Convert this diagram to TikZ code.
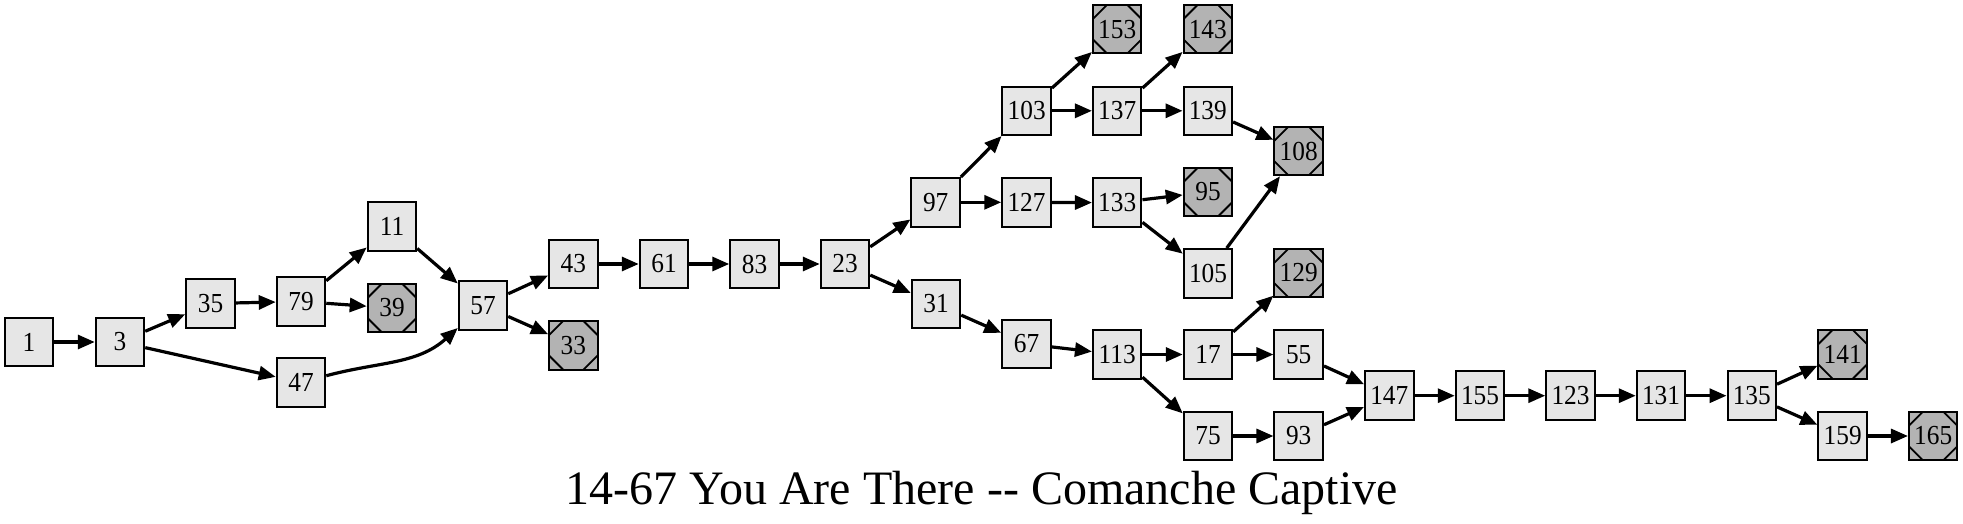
\documentclass[tikz,border=0pt]{standalone}
\usepackage{fontspec}
\setmainfont{Liberation Serif}
\usetikzlibrary{arrows.meta,calc}
\definecolor{nodefill}{HTML}{E6E6E6}
\definecolor{termfill}{HTML}{B3B3B3}
\newcommand\hsq[1]{\scalebox{0.92}[1]{#1}}
\tikzset{
  pg/.style={draw=black, line width=2pt, fill=nodefill, minimum width=48.5pt,
    minimum height=48.5pt, inner sep=0pt, font=\fontsize{27.5}{27.5}\selectfont},
  term/.style={pg, fill=termfill, path picture={
    \draw[line width=1.8pt] ([xshift=14pt]path picture bounding box.north west) -- ([yshift=-14pt]path picture bounding box.north west);
    \draw[line width=1.8pt] ([xshift=-14pt]path picture bounding box.north east) -- ([yshift=-14pt]path picture bounding box.north east);
    \draw[line width=1.8pt] ([xshift=14pt]path picture bounding box.south west) -- ([yshift=14pt]path picture bounding box.south west);
    \draw[line width=1.8pt] ([xshift=-14pt]path picture bounding box.south east) -- ([yshift=14pt]path picture bounding box.south east);
  }},
  edge/.style={line width=3.2pt, -{Triangle[length=17pt,width=14pt]}}
}
\begin{document}
\begin{tikzpicture}[x=1pt,y=1pt]
\fill[white] (0,0) rectangle (1963,-524);
\useasboundingbox (0,0) rectangle (1963,-524);
% nodes
\node[pg] (n1) at (29,-342) {\hsq{1}};
\node[pg] (n3) at (120,-342) {\hsq{3}};
\node[pg] (n35) at (210.5,-303.5) {\hsq{35}};
\node[pg] (n79) at (301,-301.5) {\hsq{79}};
\node[pg] (n47) at (301,-382.5) {\hsq{47}};
\node[pg] (n11) at (392,-226.7) {\hsq{11}};
\node[term] (n39) at (392,-308) {\hsq{39}};
\node[pg] (n57) at (483,-305.3) {\hsq{57}};
\node[pg] (n43) at (573.3,-264) {\hsq{43}};
\node[term] (n33) at (573.3,-345.3) {\hsq{33}};
\node[pg] (n61) at (664,-264) {\hsq{61}};
\node[pg] (n83) at (754.5,-264) {\hsq{83}};
\node[pg] (n23) at (845,-264) {\hsq{23}};
\node[pg] (n97) at (935.7,-202.3) {\hsq{97}};
\node[pg] (n31) at (936,-304) {\hsq{31}};
\node[pg] (n103) at (1026.7,-110.8) {\hsq{103}};
\node[pg] (n127) at (1026.5,-202.3) {\hsq{127}};
\node[pg] (n67) at (1026.5,-344) {\hsq{67}};
\node[term] (n153) at (1117.2,-29.2) {\hsq{153}};
\node[pg] (n137) at (1117.2,-110.8) {\hsq{137}};
\node[pg] (n133) at (1117.2,-202.7) {\hsq{133}};
\node[pg] (n113) at (1117.2,-354.5) {\hsq{113}};
\node[term] (n143) at (1207.8,-29.2) {\hsq{143}};
\node[pg] (n139) at (1207.8,-110.8) {\hsq{139}};
\node[term] (n95) at (1208,-192) {\hsq{95}};
\node[pg] (n105) at (1208,-273.3) {\hsq{105}};
\node[pg] (n17) at (1208,-354.5) {\hsq{17}};
\node[pg] (n75) at (1208,-436) {\hsq{75}};
\node[term] (n108) at (1298.7,-151) {\hsq{108}};
\node[term] (n129) at (1298.7,-273) {\hsq{129}};
\node[pg] (n55) at (1298.7,-354.5) {\hsq{55}};
\node[pg] (n93) at (1298.7,-436) {\hsq{93}};
\node[pg] (n147) at (1389.3,-395.7) {\hsq{147}};
\node[pg] (n155) at (1480,-395.7) {\hsq{155}};
\node[pg] (n123) at (1570.5,-395.7) {\hsq{123}};
\node[pg] (n131) at (1661,-395.7) {\hsq{131}};
\node[pg] (n135) at (1751.8,-395.7) {\hsq{135}};
\node[term] (n141) at (1842.7,-354.3) {\hsq{141}};
\node[pg] (n159) at (1842.7,-436) {\hsq{159}};
\node[term] (n165) at (1933.2,-436) {\hsq{165}};
% edges
\draw[edge] (n1) -- (n3);
\draw[edge] (n3) -- (n35);
\draw[edge] (n3) -- (n47);
\draw[edge] (n35) -- (n79);
\draw[edge] (n79) -- (n11);
\draw[edge] (n79) -- (n39);
\draw[edge] (n47) to[out=15,in=-138] (n57);
\draw[edge] (n11) -- (n57);
\draw[edge] (n57) -- (n43);
\draw[edge] (n57) -- (n33);
\draw[edge] (n43) -- (n61);
\draw[edge] (n61) -- (n83);
\draw[edge] (n83) -- (n23);
\draw[edge] (n23) -- (n97);
\draw[edge] (n23) -- (n31);
\draw[edge] (n97) -- (n103);
\draw[edge] (n97) -- (n127);
\draw[edge] (n31) -- (n67);
\draw[edge] (n103) -- (n153);
\draw[edge] (n103) -- (n137);
\draw[edge] (n127) -- (n133);
\draw[edge] (n67) -- (n113);
\draw[edge] (n137) -- (n143);
\draw[edge] (n137) -- (n139);
\draw[edge] (n133) -- (n95);
\draw[edge] (n133) -- (n105);
\draw[edge] (n113) -- (n17);
\draw[edge] (n113) -- (n75);
\draw[edge] (n139) -- (n108);
\draw[edge] (n105) -- (n108);
\draw[edge] (n17) -- (n129);
\draw[edge] (n17) -- (n55);
\draw[edge] (n75) -- (n93);
\draw[edge] (n55) -- (n147);
\draw[edge] (n93) -- (n147);
\draw[edge] (n147) -- (n155);
\draw[edge] (n155) -- (n123);
\draw[edge] (n123) -- (n131);
\draw[edge] (n131) -- (n135);
\draw[edge] (n135) -- (n141);
\draw[edge] (n135) -- (n159);
\draw[edge] (n159) -- (n165);
% title
\node[anchor=base, inner sep=0pt, font=\fontsize{48}{48}\selectfont] (title) at (981.5,-504) {\scalebox{1.0}[1]{14-67 You Are There -{}- Comanche Captive}};
\end{tikzpicture}
\end{document}
